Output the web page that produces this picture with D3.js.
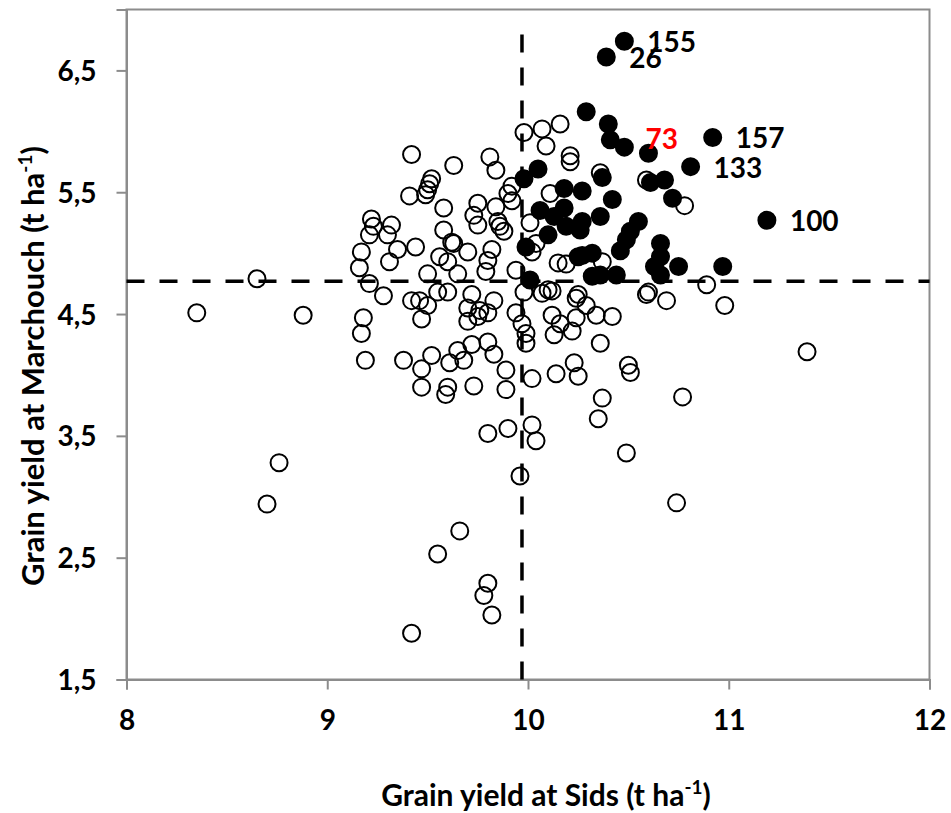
<!DOCTYPE html>
<html>
<head>
<meta charset="utf-8">
<script src="https://cdn.jsdelivr.net/npm/d3@7"></script>
<style>
  body { margin: 0; background: #fff; }
  text { font-family: Lato, "Open Sans", sans-serif; font-weight: 700; }
</style>
</head>
<body>
<div id="chart"></div>
<script>
// grain yield (t/ha): x = Sids, y = Marchouch
var openSids = [8.35, 8.65, 8.88, 8.76, 8.70,
  9.16, 9.17, 9.22, 9.23, 9.21, 9.30, 9.32, 9.35, 9.31, 9.44, 9.21, 9.28, 9.18, 9.17, 9.19, 9.38,
  9.42, 9.46, 9.50, 9.47, 9.55, 9.60, 9.50, 9.52, 9.47, 9.47, 9.60, 9.59, 9.61, 9.65, 9.68, 9.72, 9.80, 9.83, 9.89, 9.89, 9.73, 9.80, 9.90, 9.96,
  9.72, 9.70, 9.76, 9.80, 9.83, 9.70, 9.75, 9.94, 9.97, 9.99, 9.99,
  9.42, 9.63, 9.81, 9.84, 9.52, 9.51, 9.50, 9.41, 9.49, 9.58, 9.92, 9.90, 9.92, 9.75, 9.73, 9.75, 9.84, 9.85, 9.86, 9.88, 9.58, 9.62, 9.63, 9.70, 9.56, 9.60, 9.65, 9.82, 9.80, 9.79, 9.94,
  9.55, 9.66, 9.80, 9.78, 9.82, 9.42,
  9.98, 10.07, 10.16, 10.09, 10.21, 10.21, 10.36, 10.11, 10.01, 10.04, 10.02, 10.15, 10.19, 10.37, 10.59, 10.78, 10.10, 10.25, 10.60, 10.89,
  9.98, 10.07, 10.12, 10.24, 10.29, 10.34, 10.42, 10.59, 10.69, 10.98, 10.12, 10.16, 10.13, 10.22, 10.24, 10.36, 10.02, 10.14, 10.23, 10.25, 10.50, 10.51, 10.77, 10.37, 10.35, 10.02, 10.04, 10.49, 11.39, 10.74];
var openMarchouch = [4.51, 4.79, 4.49, 3.28, 2.94,
  4.88, 5.01, 5.28, 5.22, 5.15, 5.15, 5.23, 5.03, 4.93, 5.05, 4.75, 4.65, 4.47, 4.34, 4.12, 4.12,
  4.61, 4.61, 4.57, 4.46, 4.68, 4.68, 4.83, 4.16, 4.05, 3.90, 3.90, 3.84, 4.10, 4.20, 4.12, 4.25, 4.27, 4.17, 4.04, 3.88, 3.91, 3.52, 3.56, 3.17,
  4.66, 4.55, 4.53, 4.51, 4.61, 4.44, 4.48, 4.51, 4.42, 4.34, 4.26,
  5.81, 5.72, 5.79, 5.68, 5.61, 5.57, 5.52, 5.47, 5.48, 5.37, 5.55, 5.49, 5.43, 5.41, 5.31, 5.23, 5.38, 5.26, 5.22, 5.18, 5.19, 5.09, 5.08, 5.01, 4.97, 4.93, 4.83, 5.03, 4.94, 4.85, 4.86,
  2.53, 2.72, 2.29, 2.19, 2.03, 1.88,
  5.99, 6.02, 6.06, 5.88, 5.80, 5.75, 5.66, 5.49, 5.25, 5.08, 5.01, 4.92, 4.91, 4.93, 5.60, 5.39, 4.70, 4.66, 4.68, 4.74,
  4.68, 4.67, 4.69, 4.63, 4.57, 4.49, 4.48, 4.66, 4.61, 4.57, 4.49, 4.42, 4.33, 4.36, 4.47, 4.26, 3.97, 4.01, 4.10, 3.99, 4.08, 4.02, 3.82, 3.81, 3.64, 3.59, 3.46, 3.36, 4.19, 2.95];

var eliteSids = [10.29, 10.40, 10.41, 10.48, 10.05, 9.98, 10.18, 10.27, 10.37, 10.42, 10.36, 10.06, 10.18, 10.13, 10.19, 10.27, 10.26, 10.10,
  10.55, 10.51, 10.46, 10.66, 10.66, 10.63, 10.66, 10.75, 10.97, 10.27, 10.32, 10.32, 10.36, 10.44, 10.01, 9.99, 10.61, 10.68, 10.72, 10.25, 10.49];
var eliteMarchouch = [6.16, 6.06, 5.93, 5.87, 5.69, 5.61, 5.53, 5.51, 5.62, 5.44, 5.30, 5.35, 5.37, 5.30, 5.22, 5.26, 5.19, 5.15,
  5.26, 5.18, 5.02, 5.08, 4.97, 4.89, 4.82, 4.89, 4.89, 4.98, 5.00, 4.81, 4.82, 4.82, 4.78, 5.05, 5.58, 5.60, 5.45, 4.97, 5.11];

// labelled genotypes
var labelIds = ["155", "26", "73", "157", "133", "100"];
var labelSids = [10.48, 10.39, 10.60, 10.92, 10.81, 11.19];
var labelMarchouch = [6.74, 6.61, 5.82, 5.95, 5.71, 5.27];

// means (dashed lines)
var meanSids = 9.97;
var meanMarchouch = 4.77;

var xTicks = [8, 9, 10, 11, 12];
var yTicks = [1.5, 2.5, 3.5, 4.5, 5.5, 6.5];

var W = 951, H = 813;
var margin = {top: 9.5, right: 21.5, bottom: 133.5, left: 126.5};
var width = W - margin.left - margin.right;
var height = H - margin.top - margin.bottom;

var svg = d3.select("#chart").append("svg").attr("width", W).attr("height", H);
var g = svg.append("g").attr("transform", "translate(" + margin.left + "," + margin.top + ")");

var x = d3.scaleLinear().domain([8, 12]).range([0, width]);
var y = d3.scaleLinear().domain([1.5, 7]).range([height, 0]);
var fmt = function(d) { return String(d).replace(".", ","); };

var axisColor = "#8c8c8c";

// frame
g.append("rect").attr("width", width).attr("height", height)
  .attr("fill", "none").attr("stroke", axisColor).attr("stroke-width", 2);

var xAxis = g.append("g").attr("transform", "translate(0," + height + ")")
  .call(d3.axisBottom(x).tickValues(xTicks).tickFormat(fmt).tickSize(10).tickPadding(21));
var yAxis = g.append("g")
  .call(d3.axisLeft(y).tickValues(yTicks).tickFormat(fmt).tickSize(10).tickPadding(20));
[xAxis, yAxis].forEach(function(a) {
  a.select(".domain").attr("stroke", axisColor).attr("stroke-width", 2);
  a.selectAll(".tick line").attr("stroke", axisColor).attr("stroke-width", 2);
  a.selectAll(".tick text").attr("fill", "#000").style("font-size", "28px")
    .style("font-family", "Lato, sans-serif").style("font-weight", 700);
});
yAxis.selectAll(".tick text").attr("dy", "0.36em");

// mean lines
g.append("line")
  .attr("x1", x(8)).attr("x2", x(12)).attr("y1", y(meanMarchouch)).attr("y2", y(meanMarchouch))
  .attr("stroke", "#000").attr("stroke-width", 3.5).attr("stroke-dasharray", "18,15");
g.append("line")
  .attr("x1", x(meanSids)).attr("x2", x(meanSids)).attr("y1", y(1.5)).attr("y2", y(6.88))
  .attr("stroke", "#000").attr("stroke-width", 3.5).attr("stroke-dasharray", "18,15");

// open points
var openData = openSids.map(function(v, i) { return {sx: v, my: openMarchouch[i]}; });
g.selectAll("circle.open").data(openData).enter().append("circle")
  .attr("class", "open")
  .attr("cx", function(d) { return x(d.sx); })
  .attr("cy", function(d) { return y(d.my); })
  .attr("r", 8.5)
  .attr("fill", "none").attr("stroke", "#000").attr("stroke-width", 2);

// selected genotypes
var eliteData = eliteSids.map(function(v, i) { return {sx: v, my: eliteMarchouch[i]}; });
var labelData = labelSids.map(function(v, i) { return {id: labelIds[i], sx: v, my: labelMarchouch[i]}; });
g.selectAll("circle.elite").data(eliteData.concat(labelData)).enter().append("circle")
  .attr("class", "elite")
  .attr("cx", function(d) { return x(d.sx); })
  .attr("cy", function(d) { return y(d.my); })
  .attr("r", 8.5)
  .attr("fill", "#000").attr("stroke", "#000").attr("stroke-width", 2);

// label offsets (px) and colours
var labelOffset = {"73": [-3, -4]};
g.selectAll("text.lab").data(labelData).enter().append("text")
  .attr("class", "lab")
  .attr("x", function(d) { return x(d.sx) + (labelOffset[d.id] ? labelOffset[d.id][0] : 23); })
  .attr("y", function(d) { return y(d.my) + (labelOffset[d.id] ? labelOffset[d.id][1] : 11); })
  .attr("fill", function(d) { return d.id === "73" ? "#ff0000" : "#000"; })
  .style("font-size", "28px")
  .text(function(d) { return d.id; });

// axis titles
var xt = svg.append("text").attr("x", 546).attr("y", 806).attr("text-anchor", "middle")
  .style("font-size", "30px");
xt.append("tspan").text("Grain yield at Sids (t ha");
xt.append("tspan").attr("dy", -12).style("font-size", "19px").text("-1");
xt.append("tspan").attr("dy", 12).text(")");

var yt = svg.append("text").attr("transform", "translate(44,366) rotate(-90)").attr("text-anchor", "middle")
  .style("font-size", "31px");
yt.append("tspan").text("Grain yield at Marchouch (t ha");
yt.append("tspan").attr("dy", -12).style("font-size", "19px").text("-1");
yt.append("tspan").attr("dy", 12).text(")");
</script>
</body>
</html>
